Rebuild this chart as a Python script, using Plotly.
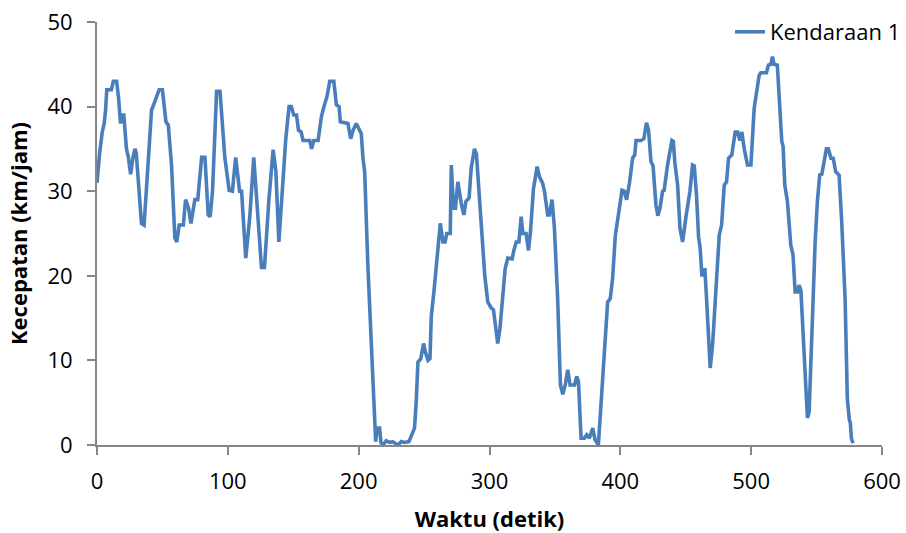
import plotly.graph_objects as go

waktu = [0, 1, 2, 4, 5.5, 6.5, 7.5, 11, 12.5, 15, 16.5, 18, 19, 20.5, 22.5, 24, 25.7, 27.5, 29, 30,
         32, 34, 36, 39, 41.7, 44, 45.5, 47.5, 50, 52.7, 54.5, 57, 59.5, 61, 62.8, 66, 67.7, 70, 71.8, 74.8,
         77, 80, 82.5, 85, 86.5, 88.3, 91.4, 94, 97.7, 101, 103.5, 106, 109, 110.5, 113.7, 116.8, 119.8, 122.4, 125.7, 128,
         131.3, 134.6, 136.7, 139, 142, 144.3, 146.8, 148.5, 150.4, 152.5, 154, 156, 157.5, 162.6, 164, 165.7, 169, 171.5, 173.5, 175.8,
         177.9, 181, 183, 185, 186, 191.8, 193.9, 195.7, 198.2, 200.8, 202, 203.3, 204.6, 207, 211, 213, 214, 216, 217, 218.6,
         221, 223.6, 226, 230, 232.6, 235, 238.4, 240, 242.7, 244, 245.3, 247.5, 248.6, 249.6, 251, 253, 254.5, 255.5, 257.5, 259.3,
         260.6, 262.4, 264.4, 266, 267.4, 270, 270.8, 272.5, 274, 275.8, 278.5, 280.4, 282, 284.4, 286, 288.5, 290, 291, 293, 295,
         296.4, 298.7, 301.3, 303, 306.3, 308, 310, 312, 314, 317.3, 318.6, 320.4, 322.5, 324.2, 325.5, 328, 329.8, 331.3, 333.6, 336.4,
         338.2, 340.7, 342, 344.5, 345.8, 347.8, 349.6, 352.1, 354.2, 356, 358, 359.8, 361.6, 365, 366.7, 368, 370, 372.5, 374.3, 376.3,
         378.9, 380.7, 383.2, 385.3, 387.8, 390.3, 392.3, 394.1, 396.2, 398.7, 401.3, 403, 404.8, 407, 409.4, 411, 412, 415.8, 418, 420,
         421.6, 423.4, 425, 427.2, 428.7, 430.3, 432.3, 433.5, 436, 439.4, 440.5, 441.7, 443.8, 445.6, 447.6, 450.2, 453.2, 455.2, 456.5, 458.2,
         459.8, 461, 462.3, 463.5, 464.6, 465.9, 467.4, 468.7, 470.5, 472.5, 473.8, 475.6, 477.4, 479.4, 481.2, 482.7, 485.2, 487.8, 489.6, 491.4,
         492.9, 494.7, 497.2, 499.8, 502.3, 503.5, 506.1, 507.4, 511.7, 513.2, 515, 516.3, 517.5, 520, 521.4, 523.4, 524.4, 525.7, 527.7, 529,
         530.3, 532, 533.6, 535.4, 536.6, 538, 540, 541.7, 543, 544.3, 545.5, 547.3, 548.9, 550.6, 552.4, 554, 555.7, 557.5, 559, 561,
         562.7, 564.6, 567.2, 569.2, 571.8, 573.5, 575, 575.8, 576.6, 577.8]

kecepatan = [31, 33, 34.5, 37, 38, 39.5, 42, 42, 43, 43, 41, 38, 39, 39, 35, 34, 32, 34, 35, 34.5,
             30, 26.2, 26, 33.5, 39.6, 40.5, 41.2, 42, 42, 38.2, 37.8, 33, 24.5, 24, 26, 26, 29, 28, 26.2, 29,
             29, 34, 34, 27.2, 27, 30, 41.8, 41.8, 34, 30.1, 30, 34, 30, 30, 22.1, 27, 34, 28, 21, 21,
             28.8, 34.9, 32.4, 24, 31, 36.2, 40, 40, 39, 39, 37.2, 37, 36, 36, 35, 36, 36, 38.8, 40, 41.2,
             43, 43, 40.2, 40, 38.2, 38, 36.2, 37.2, 38, 37, 36.8, 33.9, 32.3, 21.3, 5.9, 0.4, 2, 2, 0.3, 0,
             0.5, 0.3, 0.4, 0, 0.4, 0.3, 0.4, 1, 2, 5.1, 9.8, 10.2, 11, 12, 11, 10, 10.2, 15.2, 18.1, 20.9,
             23.6, 26.2, 24, 24, 25, 25, 33.1, 28, 28, 31.1, 28.5, 27.2, 28.8, 29.2, 32.7, 35, 34.4, 32, 28, 24,
             20, 16.9, 16.2, 16, 12, 13.8, 16.9, 20.9, 22.1, 22, 23, 24, 24, 27, 25, 25, 23, 25.2, 30.3, 32.9,
             31.7, 30.9, 30, 27.2, 27.2, 29, 25.7, 17.3, 7.1, 6, 7.2, 8.9, 7.1, 7.1, 8.1, 7.5, 0.8, 0.8, 1.2, 0.8,
             2, 0.6, 0, 5.5, 11, 16.9, 17.3, 19.7, 24.8, 27.6, 30.1, 30, 29, 31, 33.9, 34.3, 36, 36, 36.2, 38.1,
             37.2, 33.5, 33, 28.4, 27.1, 28, 30, 30.1, 33, 36, 35.9, 33.3, 30.7, 25.6, 24, 27, 30, 33.1, 33, 29.6,
             24.6, 23.3, 20.1, 20.1, 20.9, 17.3, 11.8, 9.1, 11.8, 17.3, 19.5, 24.8, 26, 30.7, 31.1, 33.9, 34.3, 37, 37, 36,
             37, 35, 33.1, 33.1, 39.8, 41, 43.7, 44, 44, 44.9, 45, 45.9, 45, 44.9, 41, 35.9, 35.3, 30.7, 28.8, 26.4,
             23.6, 22.5, 18.1, 18.1, 18.9, 18.3, 12.6, 7.5, 3.2, 3.9, 9.5, 19.3, 24, 28.8, 31.9, 32, 33.5, 35, 35, 33.9,
             33.9, 32.3, 31.9, 26.4, 17.3, 5.5, 3, 2.6, 0.8, 0.2]

x_ticks = [0, 100, 200, 300, 400, 500, 600]
y_ticks = [0, 10, 20, 30, 40, 50]

font_family = "Open Sans, Lato, sans-serif"
axis_color = "#868686"

fig = go.Figure()
fig.add_trace(go.Scatter(
    x=waktu, y=kecepatan, mode="lines", name="Kendaraan 1",
    line=dict(color="#4a7ebb", width=3.6),
))

fig.update_layout(
    width=906, height=533,
    margin=dict(l=97, r=24, t=22, b=88, autoexpand=False),
    paper_bgcolor="white", plot_bgcolor="white",
    font=dict(family=font_family, size=22, color="#000000"),
    showlegend=True,
    legend=dict(xref="container", x=1.0, xanchor="right",
                yref="container", y=1 - 32 / 533, yanchor="middle",
                font=dict(size=22), bgcolor="rgba(0,0,0,0)", borderwidth=0),
    xaxis=dict(
        range=[0, 600], tickvals=x_ticks, ticktext=[str(t) for t in x_ticks],
        showgrid=False, zeroline=False, showline=True, linecolor=axis_color, linewidth=2,
        ticks="outside", ticklen=8, tickwidth=2, tickcolor=axis_color,
        title=dict(text="<b>Waktu (detik)</b>", font=dict(size=22), standoff=17),
        ticklabelstandoff=8,
    ),
    yaxis=dict(
        range=[0, 50], tickvals=y_ticks, ticktext=[str(t) for t in y_ticks],
        showgrid=False, zeroline=False, showline=True, linecolor=axis_color, linewidth=2,
        ticks="outside", ticklen=8, tickwidth=2, tickcolor=axis_color,
        title=dict(text="<b>Kecepatan (km/jam)</b>", font=dict(size=22), standoff=14),
        ticklabelstandoff=10,
    ),
)

fig.write_html("out.html")
